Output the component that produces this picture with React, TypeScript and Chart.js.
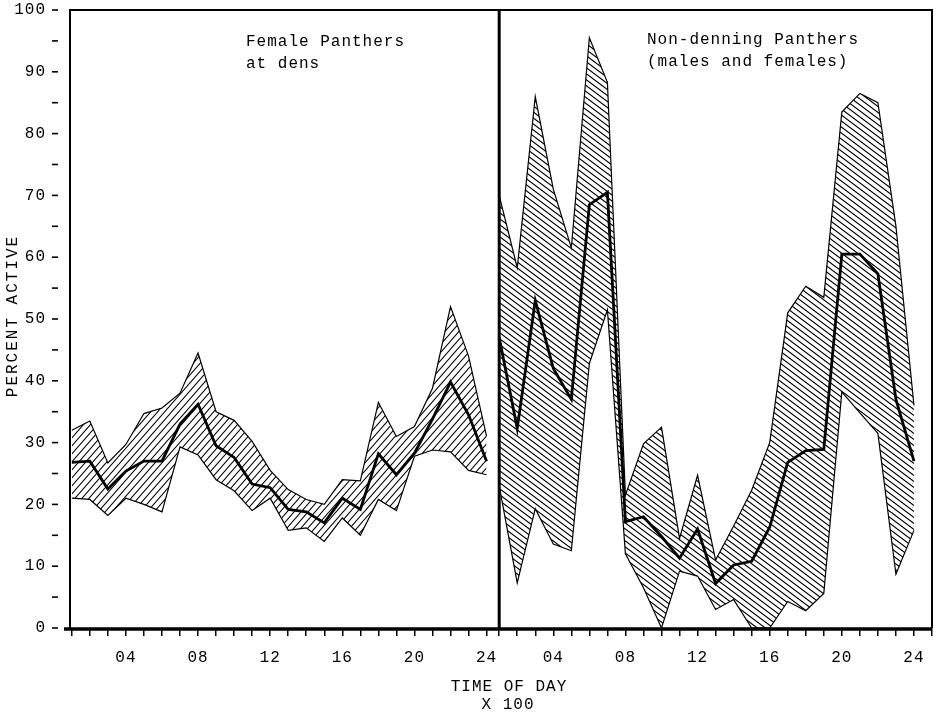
import React, { useEffect, useRef } from 'react';
import { Chart, registerables } from 'chart.js';

Chart.register(...registerables);

// ---- data (percent active, hourly 01..24) ----
const hours = [1, 2, 3, 4, 5, 6, 7, 8, 9, 10, 11, 12, 13, 14, 15, 16, 17, 18, 19, 20, 21, 22, 23, 24];

const denUpper = [32, 33.5, 26.7, 29.7, 34.7, 35.6, 38.0, 44.5, 35.0, 33.6, 30.2, 25.5, 22.4, 20.8, 20.0, 24.0, 23.8, 36.5, 31.0, 32.6, 38.8, 52.0, 44.0, 31.0];
const denMean = [26.8, 27.0, 22.5, 25.4, 27.0, 27.0, 33.0, 36.2, 29.5, 27.6, 23.3, 22.7, 19.2, 18.8, 17.0, 21.0, 19.2, 28.2, 24.8, 28.3, 33.8, 39.8, 34.5, 27.0];
const denLower = [21.0, 20.8, 18.2, 21.0, 20.0, 18.8, 29.3, 28.0, 24.0, 22.2, 19.0, 21.0, 15.8, 16.2, 14.0, 17.8, 15.0, 20.8, 19.0, 27.8, 28.8, 28.5, 25.5, 24.8];

const nonUpper = [70, 58.3, 86, 71, 61.5, 95.5, 88.3, 21.5, 29.8, 32.5, 14.5, 24.7, 11.0, 16.5, 22.3, 30.0, 51.0, 55.3, 53.5, 83.5, 86.5, 85.0, 65.0, 36.0];
const nonMean = [47, 32.3, 53, 42, 37, 68.5, 70.5, 17.2, 18.0, 14.8, 11.3, 16.0, 7.2, 10.2, 10.8, 16.3, 26.8, 28.7, 28.9, 60.5, 60.5, 57.3, 37.0, 27.0];
const nonLower = [23, 7.3, 19.3, 13.6, 12.5, 42.8, 51.5, 12.0, 6.5, 0, 9.2, 8.4, 3.0, 4.6, 0, 0, 4.3, 2.8, 5.6, 38.2, 34.8, 31.5, 8.7, 15.8];

const hourTickLabels = ['04', '08', '12', '16', '20', '24'];
const panelTitles = [['Female Panthers', 'at dens'], ['Non-denning Panthers', '(males and females)']];
const xTitle = ['TIME OF DAY', 'X 100'];
const yTitle = 'PERCENT ACTIVE';

// ---- layout constants ----
const X_MIN = 0.9;
const X_MAX = 48.7;
const RIGHT_OFFSET = 23.7; // right-panel hour h sits at h + RIGHT_OFFSET
const DIVIDER = 1 + RIGHT_OFFSET;
const FONT = '"Liberation Mono", "DejaVu Sans Mono", monospace';

function hatch(w: number, h: number, dir: 'up' | 'down', lw: number) {
  const c = document.createElement('canvas');
  c.width = w;
  c.height = h;
  const g = c.getContext('2d')!;
  g.strokeStyle = '#000';
  g.lineWidth = lw;
  g.beginPath();
  for (const dx of [-w, 0, w]) {
    if (dir === 'up') {
      g.moveTo(dx - w, 2 * h);
      g.lineTo(dx + 2 * w, -h);
    } else {
      g.moveTo(dx - w, -h);
      g.lineTo(dx + 2 * w, 2 * h);
    }
  }
  g.stroke();
  return g.createPattern(c, 'repeat')!;
}

const xTicks: { value: number; label: string }[] = [];
hours.forEach((h) => xTicks.push({ value: h, label: h % 4 === 0 ? hourTickLabels[h / 4 - 1] : '' }));
[...hours, 25].forEach((h) =>
  xTicks.push({ value: h + RIGHT_OFFSET, label: h % 4 === 0 && h <= 24 ? hourTickLabels[h / 4 - 1] : '' })
);

const decor = {
  id: 'decor',
  beforeDraw(chart: any) {
    chart.ctx.letterSpacing = '1px';
  },
  afterDraw(chart: any) {
    const { ctx, chartArea: a } = chart;
    const xs = chart.scales.x;
    const ys = chart.scales.y;
    ctx.save();
    ctx.strokeStyle = '#000';
    ctx.lineCap = 'butt';
    // detached y tick dashes
    ctx.lineWidth = 1.6;
    for (let v = 0; v <= 100; v += 5) {
      const py = ys.getPixelForValue(v);
      ctx.beginPath();
      ctx.moveTo(52, py);
      ctx.lineTo(58, py);
      ctx.stroke();
    }
    // frame
    ctx.lineWidth = 2;
    ctx.beginPath();
    ctx.moveTo(a.left, a.bottom);
    ctx.lineTo(a.left, a.top);
    ctx.lineTo(a.right, a.top);
    ctx.lineTo(a.right, a.bottom);
    ctx.stroke();
    ctx.lineWidth = 3.5;
    ctx.beginPath();
    ctx.moveTo(a.left - 6, a.bottom + 1);
    ctx.lineTo(a.right, a.bottom + 1);
    ctx.stroke();
    ctx.lineWidth = 3;
    const dx = xs.getPixelForValue(DIVIDER);
    ctx.beginPath();
    ctx.moveTo(dx, a.top);
    ctx.lineTo(dx, a.bottom);
    ctx.stroke();

    // texts
    ctx.fillStyle = '#000';
    ctx.font = `16px ${FONT}`;
    ctx.letterSpacing = '1px';
    ctx.textBaseline = 'middle';
    ctx.textAlign = 'left';
    ctx.fillText(panelTitles[0][0], 246, 42);
    ctx.fillText(panelTitles[0][1], 246, 64);
    ctx.fillText(panelTitles[1][0], 647, 40);
    ctx.fillText(panelTitles[1][1], 647, 62);
    ctx.textAlign = 'center';
    ctx.fillText(xTitle[0], 509, 687);
    ctx.fillText(xTitle[1], 508, 705);
    ctx.translate(13, 316);
    ctx.rotate(-Math.PI / 2);
    ctx.letterSpacing = '2px';
    ctx.fillText(yTitle, 0, 0);
    ctx.restore();
  },
};

export default function App() {
  const ref = useRef<HTMLCanvasElement>(null);
  useEffect(() => {
    if (!ref.current) return;
    const hatchDen = hatch(7, 8, 'up', 1.1);
    const hatchNon = hatch(8, 6, 'down', 1.1);
    const left = (arr: number[]) => arr.map((v, i) => ({ x: hours[i], y: v }));
    const right = (arr: number[]) => arr.map((v, i) => ({ x: hours[i] + RIGHT_OFFSET, y: v }));
    const edge = { borderColor: '#000', borderWidth: 1.2, pointRadius: 0, tension: 0 };
    const mean = { borderColor: '#000', borderWidth: 2.8, pointRadius: 0, tension: 0, fill: false };
    const chart = new Chart(ref.current, {
      type: 'line',
      data: {
        datasets: [
          { ...edge, label: 'den upper', data: left(denUpper), fill: '+1', backgroundColor: hatchDen },
          { ...edge, label: 'den lower', data: left(denLower), fill: false },
          { ...mean, label: 'den mean', data: left(denMean) },
          { ...edge, label: 'non upper', data: right(nonUpper), fill: '+1', backgroundColor: hatchNon },
          { ...edge, label: 'non lower', data: right(nonLower), fill: false },
          { ...mean, label: 'non mean', data: right(nonMean) },
        ] as any,
      },
      options: {
        animation: false,
        responsive: false,
        layout: { padding: { top: 10, left: 8, right: 4, bottom: 0 } },
        plugins: { legend: { display: false }, tooltip: { enabled: false } },
        scales: {
          x: {
            type: 'linear',
            min: X_MIN,
            max: X_MAX,
            afterBuildTicks: (s: any) => {
              s.ticks = xTicks.map((t) => ({ value: t.value }));
            },
            afterFit: (s: any) => {
              s.height = 85;
            },
            ticks: {
              autoSkip: false,
              maxRotation: 0,
              padding: 0,
              color: '#000',
              font: { family: FONT, size: 16, lineHeight: 2.7 },
              callback: (_v: any, i: number) => xTicks[i]?.label ?? '',
            },
            grid: { display: true, drawOnChartArea: false, drawTicks: true, tickLength: 8, color: '#000', lineWidth: 1.5 },
            border: { display: false },
          },
          y: {
            type: 'linear',
            min: 0,
            max: 100,
            afterFit: (s: any) => {
              s.width = 62;
            },
            ticks: {
              stepSize: 5,
              autoSkip: false,
              padding: 0,
              color: '#000',
              font: { family: FONT, size: 16 },
              callback: (v: any) => (Number(v) % 10 === 0 ? String(v) : ''),
            },
            grid: { display: false, drawTicks: true, tickLength: 24 },
            border: { display: false },
          },
        },
      },
      plugins: [decor],
    });
    return () => chart.destroy();
  }, []);
  return (
    <div style={{ position: 'fixed', left: 0, top: 0, width: 936, height: 713, background: '#fff' }}>
      <canvas ref={ref} width={936} height={713} style={{ display: 'block' }} />
    </div>
  );
}
